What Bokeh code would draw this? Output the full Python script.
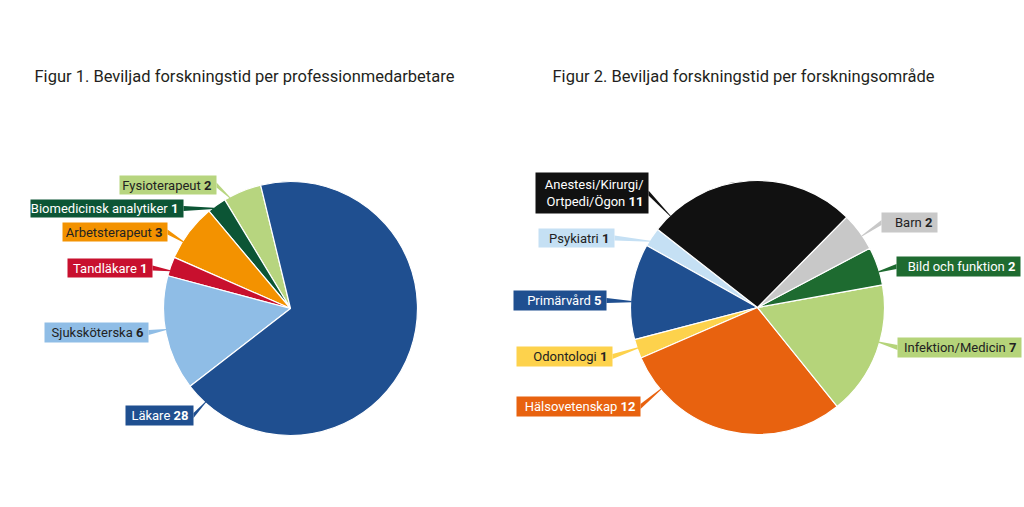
import math
from bokeh.plotting import figure
from bokeh.models import Range1d, ColumnDataSource
from bokeh.core.properties import value
from bokeh.embed import file_html
from bokeh.resources import INLINE

W, H = 1024, 507

# ---------------- data ----------------
title1 = "Figur 1. Beviljad forskningstid per professionmedarbetare"
title2 = "Figur 2. Beviljad forskningstid per forskningsområde"

# counter-clockwise order, starting at the top-left edge of the big slice
prof_names = ["Fysioterapeut", "Biomedicinsk analytiker", "Arbetsterapeut",
              "Tandläkare", "Sjuksköterska", "Läkare"]
prof_values = [2, 1, 3, 1, 6, 28]

area_names = ["Psykiatri", "Primärvård", "Odontologi", "Hälsovetenskap",
              "Infektion/Medicin", "Bild och funktion", "Barn",
              "Anestesi/Kirurgi/\nOrtpedi/Ögon"]
area_values = [1, 5, 1, 12, 7, 2, 2, 11]

# ---------------- styles / layout ----------------
prof_colors = ["#b7d57f", "#0c5535", "#f39200", "#c8102e", "#8fbde6", "#1f4f90"]
prof_text = ["#222222", "#ffffff", "#222222", "#ffffff", "#222222", "#ffffff"]
area_colors = ["#c5e0f4", "#1f4f90", "#fdd24c", "#e8620f", "#b5d47a",
               "#1e6b30", "#c8c8c8", "#111111"]
area_text = ["#222222", "#ffffff", "#222222", "#ffffff", "#222222",
             "#ffffff", "#222222", "#ffffff"]

# label boxes in page pixels (left, top, right, bottom)
prof_boxes = [(119, 175, 216, 194), (30, 199, 183, 217), (62, 222, 167, 241),
              (67, 258, 152, 277), (44, 322, 148, 342), (125, 405, 193, 425)]
area_boxes = [(538, 228, 614, 247), (513, 290, 606, 310), (516, 346, 612, 366),
              (516, 396, 640, 416), (897, 337, 1021, 357), (896, 256, 1020, 276),
              (881, 212, 937, 232), (535, 172, 648, 213)]

pies = [
    dict(cx=290, cy=308, r=127, start=103.6, names=prof_names, vals=prof_values,
         colors=prof_colors, tcolors=prof_text, boxes=prof_boxes,
         title=title1, tx=34, ty=76),
    dict(cx=757, cy=307, r=127, start=142.0, names=area_names, vals=area_values,
         colors=area_colors, tcolors=area_text, boxes=area_boxes,
         title=title2, tx=552, ty=76),
]

FONT = "Roboto"
LBL_PX = 13
LBL = f"{LBL_PX}px"
DIGIT_W = 0.575 * LBL_PX
SPACE_W = 0.25 * LBL_PX
PAD = 5

p = figure(width=W, height=H, x_range=Range1d(0, W), y_range=Range1d(0, H),
           output_backend="svg", toolbar_location=None, min_border=0,
           x_axis_type=None, y_axis_type=None)
p.grid.visible = False
p.outline_line_color = None
p.background_fill_color = "white"


def Y(y):
    return H - y


for pie in pies:
    cx, cy, r = pie["cx"], Y(pie["cy"]), pie["r"]
    tot = sum(pie["vals"])
    starts, ends = [], []
    a = pie["start"]
    for v in pie["vals"]:
        starts.append(math.radians(a))
        a += v / tot * 360.0
        ends.append(math.radians(a))
    src = ColumnDataSource(dict(s=starts, e=ends, c=pie["colors"]))
    p.wedge(x=cx, y=cy, radius=r, start_angle="s", end_angle="e",
            direction="anticlock", fill_color="c", line_color="white",
            line_width=1.2, source=src)

    # title
    p.text(x=[pie["tx"]], y=[Y(pie["ty"])], text=[pie["title"]],
           text_font=value(FONT), text_font_size=value("16.5px"),
           text_color="#231f20", text_baseline="middle", text_align="left")

    for i, name in enumerate(pie["names"]):
        L, T, R, B = pie["boxes"][i]
        col = pie["colors"][i]
        tc = pie["tcolors"][i]
        # leader: angle towards the box, clamped into the slice
        bx = R if (L + R) / 2 < pie["cx"] else L
        by = (T + B) / 2
        ang = math.atan2(Y(by) - cy, bx - cx)
        s, e = starts[i], ends[i]
        while ang < s:
            ang += 2 * math.pi
        while ang > s + 2 * math.pi:
            ang -= 2 * math.pi
        m = min(math.radians(2.5), (e - s) * 0.3)
        if ang > e - m:
            d_end = ang - e
            d_start = s + 2 * math.pi - ang
            ang = e - m if d_end < d_start else s + m
        ang = min(max(ang, s + m), e - m)
        px = cx + (r - 1) * math.cos(ang)
        py = cy + (r - 1) * math.sin(ang)
        p.patch(x=[bx, bx, px, px], y=[Y(by) + 2.6, Y(by) - 2.6, py - 0.6, py + 0.6],
                fill_color=col, line_color=None)
        # box
        p.quad(left=[L], right=[R], top=[Y(T)], bottom=[Y(B)],
               fill_color=col, line_color=None)
        # text
        lines = name.split("\n")
        num = str(pie["vals"][i])
        n = len(lines)
        mid = (T + B) / 2
        lh = 17
        for k, ln in enumerate(lines):
            yk = mid + (k - (n - 1) / 2) * lh
            last = (k == n - 1)
            xr = R - PAD - (len(num) * DIGIT_W + SPACE_W if last else 0)
            p.text(x=[xr], y=[Y(yk)], text=[ln], text_font=value(FONT),
                   text_font_size=value(LBL), text_color=tc,
                   text_align="right", text_baseline="middle")
            if last:
                p.text(x=[R - PAD], y=[Y(yk)], text=[num], text_font=value(FONT),
                       text_font_size=value(LBL), text_font_style="bold",
                       text_color=tc, text_align="right", text_baseline="middle")

open("out.html", "w").write(file_html(p, INLINE))
